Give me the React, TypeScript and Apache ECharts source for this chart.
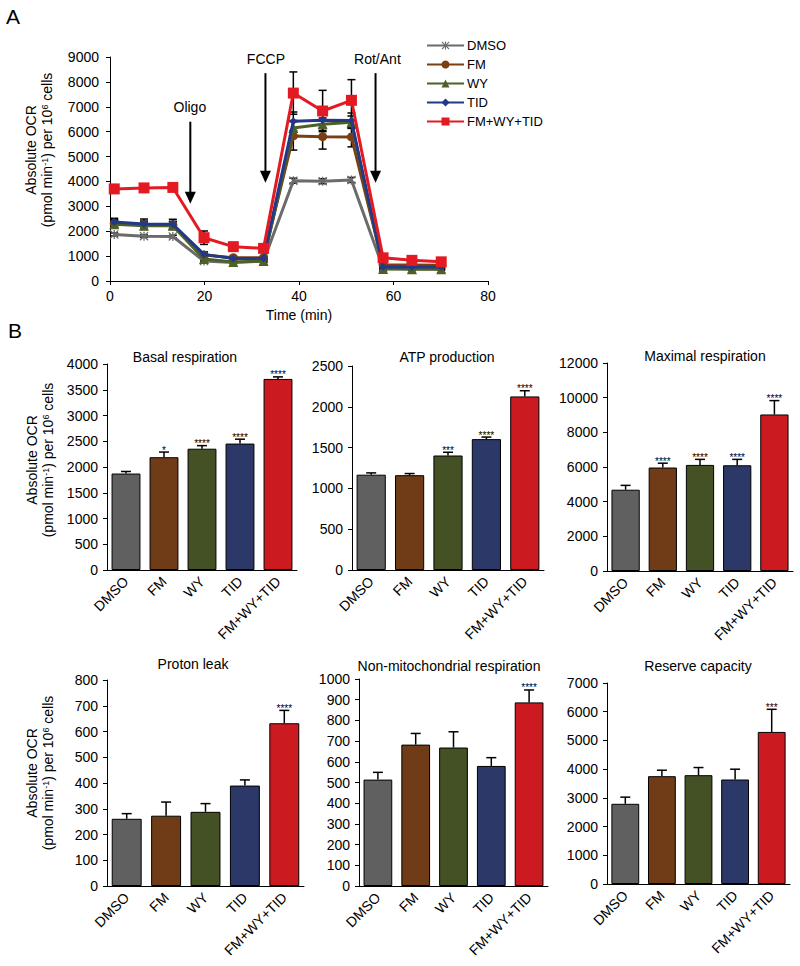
import React, { useEffect, useRef } from 'react';
import * as echarts from 'echarts';

const FONT = '"Liberation Sans", Arial, Helvetica, sans-serif';

// ---------- Panel A data ----------
const times = [0.9, 7.2, 13.3, 19.9, 26.1, 32.5, 38.8, 45.0, 51.1, 57.8, 63.9, 70.1];
const lineNames = ['DMSO', 'FM', 'WY', 'TID', 'FM+WY+TID'];
const ocrDMSO = [1870, 1800, 1790, 800, 740, 800, 4030, 4010, 4060, 520, 490, 480];
const ocrFM = [2310, 2260, 2250, 1040, 935, 935, 5830, 5800, 5790, 640, 640, 630];
const ocrWY = [2280, 2220, 2220, 880, 760, 800, 6150, 6300, 6380, 480, 470, 470];
const ocrTID = [2370, 2290, 2280, 1070, 900, 910, 6420, 6460, 6450, 560, 560, 560];
const ocrCombo = [3700, 3740, 3760, 1740, 1380, 1310, 7550, 6830, 7260, 930, 830, 770];
const errDMSO = [60, 50, 50, 40, 30, 30, 100, 100, 100, 30, 30, 30];
const errFM = [150, 150, 150, 80, 60, 60, 570, 500, 400, 50, 40, 40];
const errWY = [150, 150, 150, 80, 60, 60, 300, 250, 250, 50, 40, 40];
const errTID = [150, 200, 200, 100, 60, 60, 370, 300, 300, 50, 40, 40];
const errCombo = [100, 100, 100, 270, 100, 100, 850, 830, 830, 100, 80, 80];

const arrowLabels = ['Oligo', 'FCCP', 'Rot/Ant'];
const arrowX = [17, 32.9, 56.2];
const arrowTop = [6400, 8350, 8350];
const arrowTip = [3100, 3950, 3950];
const arrowLabelX = [16.9, 33.0, 56.6];
const arrowLabelY = [6990, 8920, 8920];

// ---------- Panel B data ----------
const categories = ['DMSO', 'FM', 'WY', 'TID', 'FM+WY+TID'];
const basal = [1873, 2190, 2355, 2455, 3710];
const basalErr = [40, 100, 60, 85, 40];
const basalSig = ['', '*', '****', '****', '****'];
const atp = [1168, 1162, 1403, 1604, 2127];
const atpErr = [22, 20, 40, 25, 70];
const atpSig = ['', '', '***', '****', '****'];
const maximal = [4690, 5970, 6120, 6100, 9030];
const maximalErr = [250, 250, 320, 340, 800];
const maximalSig = ['', '****', '****', '****', '****'];
const proton = [261, 273, 288, 390, 632];
const protonErr = [20, 53, 32, 22, 50];
const protonSig = ['', '', '', '', '****'];
const nonMito = [514, 683, 669, 580, 887];
const nonMitoErr = [35, 54, 76, 40, 60];
const nonMitoSig = ['', '', '', '', '****'];
const reserve = [2793, 3755, 3790, 3639, 5296];
const reserveErr = [232, 208, 266, 359, 788];
const reserveSig = ['', '', '', '', '***'];

// ---------- styles ----------
const lineColors = ['#6b6b6b', '#7b3f14', '#4d6028', '#22398a', '#e31a22'];
const barColors = ['#606060', '#6f3c17', '#435125', '#2b3868', '#cc1b20'];
const ASTERISK =
  'path://M1,0L5,4L9,0L10,1L6,5L10,9L9,10L5,6L1,10L0,9L4,5L0,1Z M4.3,0L5.7,0L5.7,10L4.3,10Z';
const lineSymbols = [ASTERISK, 'circle', 'triangle', 'diamond', 'rect'];
const lineSymbolSizes = [9, 9, 10, 8, 11];
const FS = 14;

const panels = [
  { title: 'Basal respiration', v: basal, e: basalErr, s: basalSig, max: 4000, step: 500,
    left: 107, top: 364, width: 190, height: 206, tx: 185, ty: 357 },
  { title: 'ATP production', v: atp, e: atpErr, s: atpSig, max: 2500, step: 500,
    left: 352, top: 366, width: 192, height: 204, tx: 447, ty: 357 },
  { title: 'Maximal respiration', v: maximal, e: maximalErr, s: maximalSig, max: 12000, step: 2000,
    left: 607, top: 363, width: 186, height: 208, tx: 705, ty: 356 },
  { title: 'Proton leak', v: proton, e: protonErr, s: protonSig, max: 800, step: 100,
    left: 107, top: 680, width: 197, height: 206, tx: 193, ty: 664 },
  { title: 'Non-mitochondrial respiration', v: nonMito, e: nonMitoErr, s: nonMitoSig, max: 1000, step: 100,
    left: 359, top: 679, width: 189, height: 207, tx: 449, ty: 666 },
  { title: 'Reserve capacity', v: reserve, e: reserveErr, s: reserveSig, max: 7000, step: 1000,
    left: 607, top: 683, width: 183, height: 201, tx: 698, ty: 666 },
];

const axisLine = { show: true, lineStyle: { color: '#000', width: 1 } };
const plain = (v: number) => String(v);

function yTitle(cx: number, cy: number) {
  return [
    {
      type: 'text', x: cx - 8, y: cy, rotation: Math.PI / 2,
      style: { text: 'Absolute OCR', fontSize: FS, fontFamily: FONT, fill: '#000', align: 'center', verticalAlign: 'middle' },
    },
    {
      type: 'text', x: cx + 8, y: cy, rotation: Math.PI / 2,
      style: {
        text: '(pmol min{s|-1}) per 10{s|6} cells', fontSize: FS, fontFamily: FONT, fill: '#000',
        align: 'center', verticalAlign: 'middle',
        rich: { s: { fontSize: 9, fontFamily: FONT, fill: '#000', verticalAlign: 'top', lineHeight: 9 } },
      },
    },
  ];
}

export default function App() {
  const ref = useRef<HTMLDivElement>(null);
  useEffect(() => {
    if (!ref.current) return;
    const chart = echarts.init(ref.current, undefined, { renderer: 'svg' });

    const lineVals = [ocrDMSO, ocrFM, ocrWY, ocrTID, ocrCombo];
    const lineErrs = [errDMSO, errFM, errWY, errTID, errCombo];

    const grids: any[] = [{ left: 110, top: 57, width: 378, height: 224 }];
    const xAxes: any[] = [{
      type: 'value', gridIndex: 0, min: 0, max: 80, interval: 20,
      axisLine, splitLine: { show: false },
      axisTick: { show: true, inside: false, length: 4, lineStyle: { color: '#000' } },
      axisLabel: { color: '#000', fontSize: FS, fontFamily: FONT, margin: 8, formatter: plain },
      name: 'Time (min)', nameLocation: 'middle', nameGap: 27,
      nameTextStyle: { color: '#000', fontSize: FS, fontFamily: FONT },
    }];
    const yAxes: any[] = [{
      type: 'value', gridIndex: 0, min: 0, max: 9000, interval: 1000,
      axisLine, splitLine: { show: false },
      axisTick: { show: true, inside: false, length: 4, lineStyle: { color: '#000' } },
      axisLabel: { color: '#000', fontSize: FS, fontFamily: FONT, margin: 11, formatter: plain },
    }];

    const series: any[] = [];
    // error bars for lines (below lines)
    lineVals.forEach((vals, k) => {
      series.push({
        type: 'custom', xAxisIndex: 0, yAxisIndex: 0, z: 1, silent: true,
        itemStyle: { color: '#000' },
        data: times.map((t, j) => [t, vals[j], lineErrs[k][j]]),
        renderItem: (params: any, api: any) => {
          const t = api.value(0), v = api.value(1), e = api.value(2);
          const lo = api.coord([t, v - e]);
          const hi = api.coord([t, v + e]);
          const st = { stroke: '#000', lineWidth: 1.5 };
          return {
            type: 'group', children: [
              { type: 'line', shape: { x1: lo[0], y1: lo[1], x2: hi[0], y2: hi[1] }, style: st },
              { type: 'line', shape: { x1: hi[0] - 4, y1: hi[1], x2: hi[0] + 4, y2: hi[1] }, style: st },
              { type: 'line', shape: { x1: lo[0] - 4, y1: lo[1], x2: lo[0] + 4, y2: lo[1] }, style: st },
            ],
          };
        },
      });
    });
    lineVals.forEach((vals, k) => {
      series.push({
        type: 'line', name: lineNames[k], xAxisIndex: 0, yAxisIndex: 0, z: 2 + k,
        data: times.map((t, j) => [t, vals[j]]),
        symbol: lineSymbols[k], symbolSize: lineSymbolSizes[k], showSymbol: true,
        lineStyle: { color: lineColors[k], width: 3 },
        itemStyle: { color: lineColors[k], borderWidth: 0 },
        emphasis: { disabled: true },
      });
    });
    // arrows
    series.push({
      type: 'custom', xAxisIndex: 0, yAxisIndex: 0, z: 10, silent: true,
      itemStyle: { color: '#000' },
      data: arrowX.map((x, i) => [x, arrowTip[i]]),
      renderItem: (params: any, api: any) => {
        const i = params.dataIndex;
        const top = api.coord([arrowX[i], arrowTop[i]]);
        const tip = api.coord([arrowX[i], arrowTip[i]]);
        const lab = api.coord([arrowLabelX[i], arrowLabelY[i]]);
        return {
          type: 'group', children: [
            { type: 'line', shape: { x1: top[0], y1: top[1], x2: tip[0], y2: tip[1] - 10 }, style: { stroke: '#000', lineWidth: 2 } },
            { type: 'polygon', shape: { points: [[tip[0] - 5.5, tip[1] - 12], [tip[0] + 5.5, tip[1] - 12], [tip[0], tip[1]]] }, style: { fill: '#000' } },
            { type: 'text', style: { text: arrowLabels[i], x: lab[0], y: lab[1], align: 'center', verticalAlign: 'middle', fontSize: FS, fontFamily: FONT, fill: '#000' } },
          ],
        };
      },
    });

    const graphics: any[] = [
      { type: 'text', x: 6, y: 6, style: { text: 'A', fontSize: 21, fontFamily: FONT, fill: '#000' } },
      { type: 'text', x: 8, y: 320, style: { text: 'B', fontSize: 21, fontFamily: FONT, fill: '#000' } },
      ...yTitle(39, 150),
      ...yTitle(40, 460),
      ...yTitle(40, 773),
    ];

    panels.forEach((p, idx) => {
      const gi = idx + 1;
      grids.push({ left: p.left, top: p.top, width: p.width, height: p.height });
      xAxes.push({
        type: 'category', gridIndex: gi, data: categories, boundaryGap: true,
        axisLine, axisTick: { show: false },
        axisLabel: { color: '#000', fontSize: FS, fontFamily: FONT, rotate: 45, interval: 0, margin: 9 },
      });
      yAxes.push({
        type: 'value', gridIndex: gi, min: 0, max: p.max, interval: p.step,
        axisLine, splitLine: { show: false },
        axisTick: { show: true, inside: false, length: 4, lineStyle: { color: '#000' } },
        axisLabel: { color: '#000', fontSize: FS, fontFamily: FONT, margin: 9, formatter: plain },
      });
      series.push({
        type: 'bar', xAxisIndex: gi, yAxisIndex: gi, barWidth: '76%', silent: true,
        data: p.v.map((v, i) => ({ value: v, itemStyle: { color: barColors[i], borderColor: '#000', borderWidth: 1 } })),
      });
      const sigs = p.s;
      series.push({
        type: 'custom', xAxisIndex: gi, yAxisIndex: gi, z: 5, silent: true,
        itemStyle: { color: '#000' },
        data: p.v.map((v, i) => [i, v, p.e[i]]),
        renderItem: (params: any, api: any) => {
          const i = api.value(0), v = api.value(1), e = api.value(2);
          const a = api.coord([i, v]);
          const b = api.coord([i, v + e]);
          const st = { stroke: '#000', lineWidth: 1.5 };
          return {
            type: 'group', children: [
              { type: 'line', shape: { x1: a[0], y1: a[1], x2: b[0], y2: b[1] }, style: st },
              { type: 'line', shape: { x1: b[0] - 5, y1: b[1], x2: b[0] + 5, y2: b[1] }, style: st },
              { type: 'text', style: { text: sigs[params.dataIndex], x: b[0], y: b[1] + 3, align: 'center', verticalAlign: 'bottom', fontSize: 10, fontFamily: FONT, fill: '#000' } },
            ],
          };
        },
      });
      graphics.push({
        type: 'text', x: p.tx, y: p.ty,
        style: { text: p.title, fontSize: FS, fontFamily: FONT, fill: '#000', align: 'center', verticalAlign: 'middle' },
      });
    });

    chart.setOption({
      animation: false,
      backgroundColor: '#fff',
      grid: grids,
      xAxis: xAxes,
      yAxis: yAxes,
      legend: {
        data: lineNames, orient: 'vertical', left: 421, top: 34,
        itemWidth: 37, itemHeight: 10, itemGap: 6,
        textStyle: { color: '#000', fontSize: 13, fontFamily: FONT, padding: [0, 0, 0, -2] },
        selectedMode: false,
      },
      graphic: graphics,
      series,
    });
    return () => chart.dispose();
  }, []);
  return <div ref={ref} style={{ position: 'absolute', left: 0, top: 0, width: 800, height: 966 }} />;
}
